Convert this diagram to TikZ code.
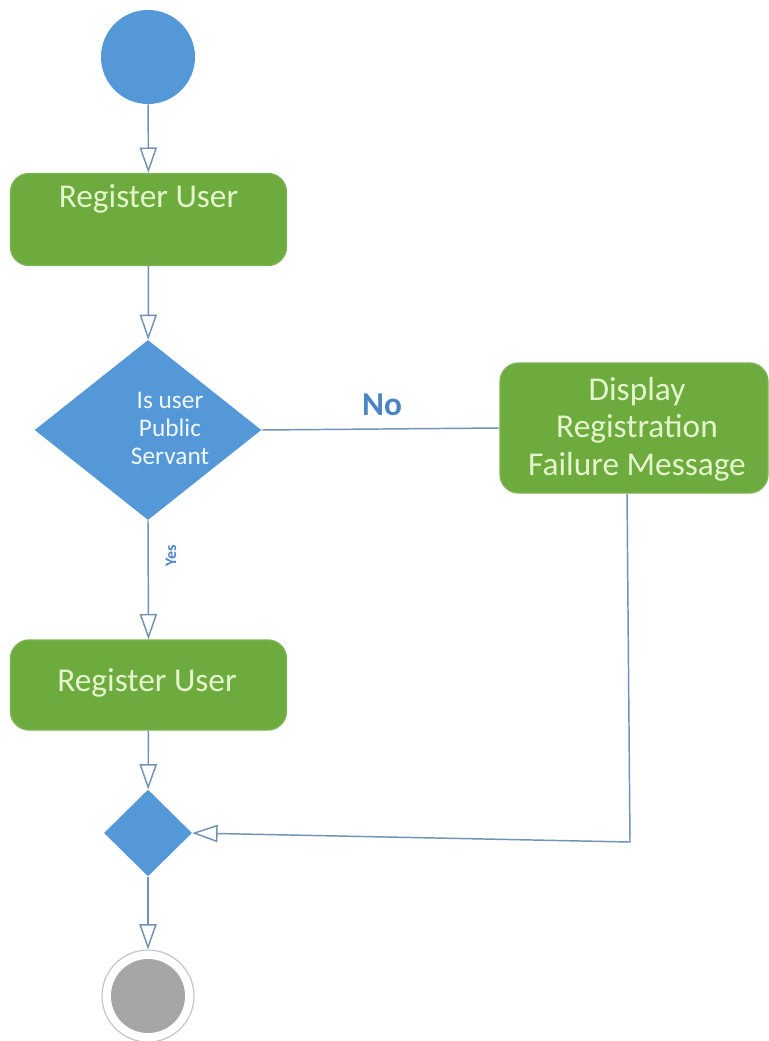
\documentclass[tikz,border=0pt]{standalone}
\usepackage{fontspec}
\setmainfont{Carlito}
\usetikzlibrary{shapes.geometric,arrows.meta}
\definecolor{actblue}{HTML}{5598D8}
\definecolor{actgreen}{HTML}{6EAB3F}
\definecolor{boxtxt}{HTML}{E4F5CC}
\definecolor{linec}{HTML}{7393B5}
\definecolor{labblue}{HTML}{4A86C5}
\definecolor{endgrey}{HTML}{A6A6A6}
\begin{document}
\begin{tikzpicture}[x=0.75pt,y=-0.75pt,
  actbox/.style={draw=actgreen!90!white,line width=1pt,fill=actgreen,rounded corners=14pt,inner sep=0pt},
  boxtext/.style={text=boxtxt,font=\fontsize{25}{28}\selectfont,align=center,inner sep=0pt},
  decision/.style={diamond,fill=actblue,draw=none,inner sep=0pt},
  flow/.style={draw=linec,line width=1.1pt,-{Triangle[open,length=19pt,width=13pt,fill=white]}},
  plain/.style={draw=linec,line width=1.1pt},
  lab/.style={text=labblue,font=\bfseries\fontsize{25}{28}\selectfont,inner sep=0pt}]
\useasboundingbox[fill=white] (0,0) rectangle (768,1041);
% start
\node[circle,fill=actblue,minimum size=70.5pt,inner sep=0pt] (start) at (148,57) {};
% box 1
\node[actbox,minimum width=207pt,minimum height=69pt] (b1) at (148.5,219.5) {};
\node[boxtext] (b1t) at (148.5,199) {Register User};
% decision
\node[decision,minimum width=170pt,minimum height=135pt] (dec) at (148,430) {};
\node[text=white!92!actblue,font=\fontsize{19}{21}\selectfont,align=center,inner sep=0pt] (dect) at (170,428) {Is user\\Public\\Servant};
% display box
\node[actbox,minimum width=201pt,minimum height=97.5pt] (disp) at (634,428) {};
\node[boxtext] (dispt) at (637,429) {Display\\Registration\\Failure Message};
% box 2
\node[actbox,minimum width=207pt,minimum height=67.5pt] (b2) at (148.5,685) {};
\node[boxtext] (b2t) at (147,683) {Register User};
% merge
\node[decision,minimum width=66pt,minimum height=65pt] (merge) at (148,833) {};
% end
\node[circle,draw=black!25,line width=0.8pt,fill=white,minimum size=69pt,inner sep=0pt] (endo) at (148,996) {};
\node[circle,fill=endgrey,minimum size=55.5pt,inner sep=0pt] (endi) at (148,996) {};
% connectors
\draw[flow] (start) -- (b1);
\draw[flow] (b1) -- (dec);
\draw[plain] (dec.east) -- (disp.west);
\node[lab] (no) at (382,405) {No};
\draw[flow] (dec.south) -- (b2.north);
\node[lab,font=\bfseries\fontsize{12}{14}\selectfont,rotate=90] (yes) at (171,556) {Yes};
\draw[flow] (b2) -- (merge);
\coordinate (corner) at (630,842);
\draw[flow] ([xshift=-5.25pt]disp.south) -- (corner) -- (merge.east);
\draw[flow] (merge.south) -- (endo.north);
\end{tikzpicture}
\end{document}
